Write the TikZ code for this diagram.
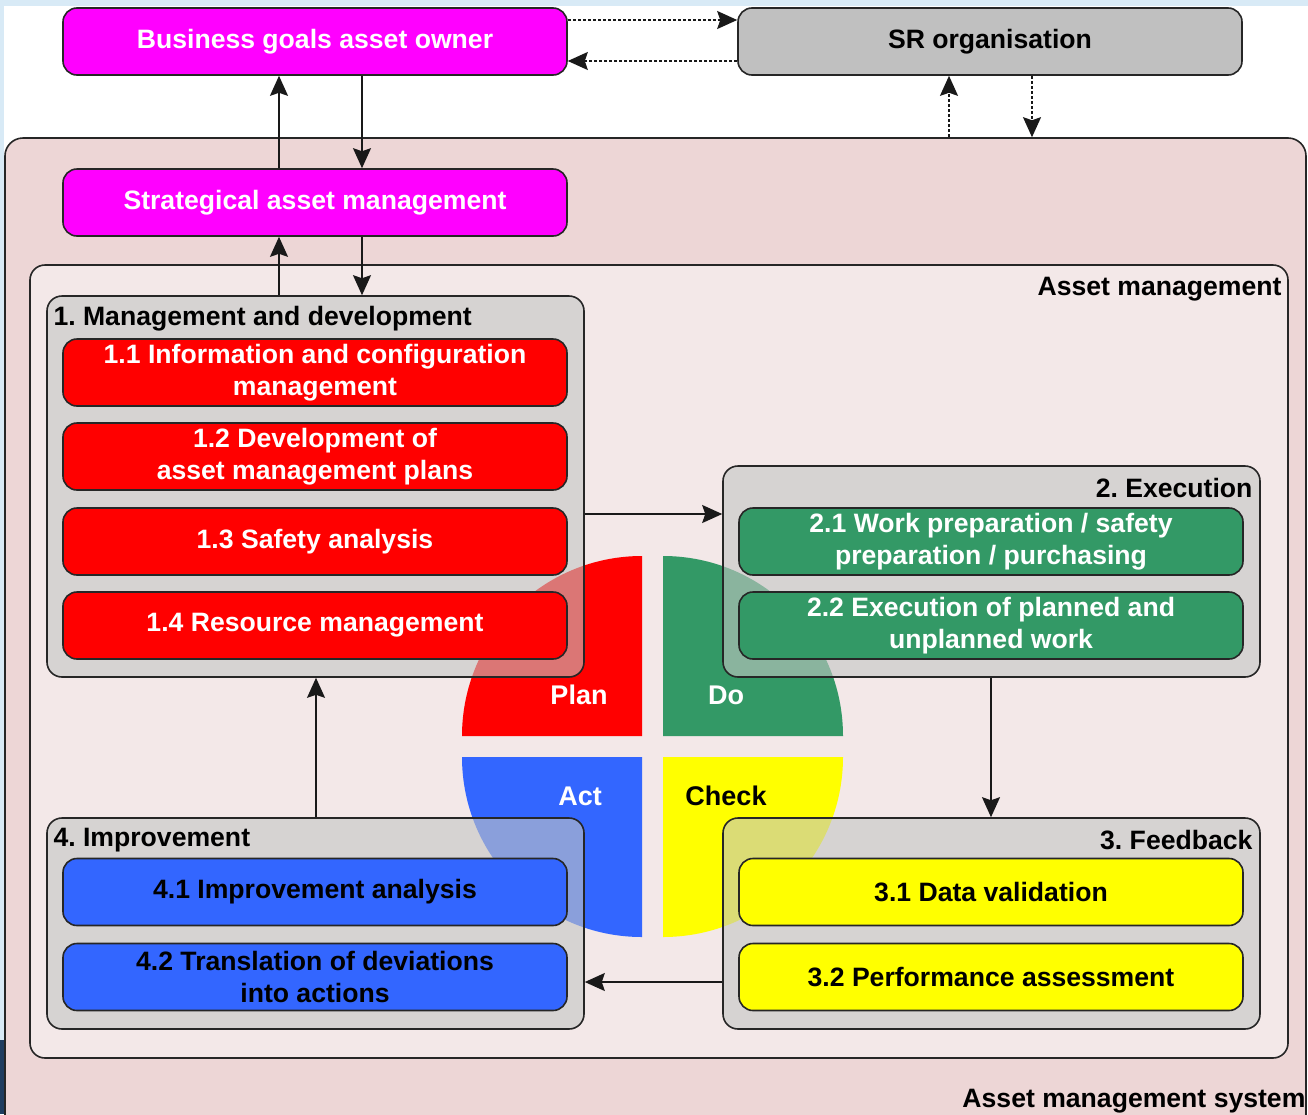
\documentclass[tikz,border=0pt]{standalone}
\usepackage{fontspec}
\setmainfont{Liberation Sans}
\usetikzlibrary{arrows.meta}
\frenchspacing

\definecolor{pageblue}{HTML}{D8EAF6}
\definecolor{navy}{HTML}{1F3D60}
\definecolor{sysfill}{HTML}{EDD6D6}
\definecolor{amfill}{HTML}{F3E8E8}
\definecolor{grpfill}{HTML}{C4C6C4}
\definecolor{magentaC}{HTML}{FF00FF}
\definecolor{srgray}{HTML}{C0C0C0}
\definecolor{planred}{HTML}{FF0000}
\definecolor{dogreen}{HTML}{339966}
\definecolor{actblue}{HTML}{3366FF}
\definecolor{checkyellow}{HTML}{FFFF00}

\tikzset{
  txt/.style={font=\bfseries\fontsize{26.6}{32}\selectfont},
  sub/.style={txt, draw=black!85, line width=1.6pt, rounded corners=14pt,
    minimum width=504pt, minimum height=67pt, inner sep=0pt, align=center},
  grp/.style={draw=black!85, line width=1.6pt, rounded corners=15pt,
    fill=grpfill, fill opacity=0.6, draw opacity=1, inner sep=0pt,
    minimum width=537pt, minimum height=211pt},
  frame/.style={draw=black!85, line width=1.6pt, rounded corners=18pt, inner sep=0pt},
  conn/.style={line width=1.5pt, draw=black!90, -{Stealth[length=20pt,width=18pt,inset=3pt]}},
  dconn/.style={conn, dash pattern=on 3pt off 2pt},
  pdca/.style={font=\bfseries\fontsize{27}{32}\selectfont}
}

\begin{document}
\begin{tikzpicture}[x=1pt,y=-1pt]
\useasboundingbox (0,0) rectangle (1308,1114);
\clip (0,0) rectangle (1308,1114);

% page background
\fill[pageblue] (0,0) rectangle (1308,1114);
\fill[navy] (0,1040) rectangle (4,1114);
\fill[white] (4,6) rectangle (1308,1114);

% containers
\node[frame, fill=sysfill, minimum width=1301pt, minimum height=1002pt] (amsys) at (655.5,639) {};
\node[frame, fill=amfill, rounded corners=15pt, minimum width=1258pt, minimum height=793pt] (am) at (659,661.5) {};

% PDCA wheel
\fill[planred] (642,736) -- (462,736) .. controls (462,636.6) and (542.6,556) .. (642,556) -- cycle;
\fill[dogreen] (663,736) -- (663,556) .. controls (762.4,556) and (843,636.6) .. (843,736) -- cycle;
\fill[actblue] (642,757) -- (462,757) .. controls (462,856.4) and (542.6,937) .. (642,937) -- cycle;
\fill[checkyellow] (663,757) -- (843,757) .. controls (843,856.4) and (762.4,937) .. (663,937) -- cycle;
\node[pdca, text=white] (plan) at (579,695) {Plan};
\node[pdca, text=white] (do) at (726,695) {Do};
\node[pdca, text=white] (act) at (580,796) {Act};
\node[pdca, text=black] (check) at (726,796) {Check};

% process groups
\node[grp, minimum height=381pt] (g1) at (315.5,486.5) {};
\node[grp] (g2) at (991.5,571.5) {};
\node[grp] (g3) at (991.5,923.5) {};
\node[grp] (g4) at (315.5,923.5) {};

% top level boxes
\node[sub, fill=magentaC, text=white] (bg) at (315,41.5) {Business goals asset owner};
\node[sub, fill=srgray, text=black] (sr) at (990,41.5) {SR organisation};
\node[sub, fill=magentaC, text=white] (sam) at (315,202.5) {Strategical asset management};

% group 1
\node[sub, fill=planred, text=white] (s11) at (315,372.5) {1.1 Information and configuration\\management};
\node[sub, fill=planred, text=white] (s12) at (315,456.5) {1.2 Development of\\asset management plans};
\node[sub, fill=planred, text=white] (s13) at (315,541.5) {1.3 Safety analysis};
\node[sub, fill=planred, text=white] (s14) at (315,625.5) {1.4 Resource management};
% group 2
\node[sub, fill=dogreen, text=white] (s21) at (991,541.5) {2.1 Work preparation / safety\\preparation / purchasing};
\node[sub, fill=dogreen, text=white] (s22) at (991,625.5) {2.2 Execution of planned and\\unplanned work};
% group 3
\node[sub, fill=checkyellow, text=black] (s31) at (991,892) {3.1 Data validation};
\node[sub, fill=checkyellow, text=black] (s32) at (991,977) {3.2 Performance assessment};
% group 4
\node[sub, fill=actblue, text=black] (s41) at (315,892) {4.1 Improvement analysis};
\node[sub, fill=actblue, text=black] (s42) at (315,977) {4.2 Translation of deviations\\into actions};

% titles
\node[txt, anchor=west] (t1) at (50,319) {1. Management and development};
\node[txt, anchor=east] (t2) at (1256,488) {2. Execution};
\node[txt, anchor=east] (t3) at (1256,840) {3. Feedback};
\node[txt, anchor=west] (t4) at (50,840) {4. Improvement};
\node[txt, anchor=east] (tam) at (1285,289) {Asset management};
\node[txt, anchor=east] (tsys) at (1309,1101) {Asset management system};

% connector guides
\coordinate (xup) at (279,0);
\coordinate (xdn) at (362,0);
\coordinate (xsrup) at (949,0);
\coordinate (xsrdn) at (1032,0);
\coordinate (ytop) at (0,20);
\coordinate (ybot) at (0,61);
\coordinate (y12) at (0,514);
\coordinate (y34) at (0,982);
\coordinate (x41) at (316,0);
\coordinate (x23) at (991,0);

% connectors
\draw[conn] (sam.north -| xup) -- (bg.south -| xup);
\draw[conn] (bg.south -| xdn) -- (sam.north -| xdn);
\draw[conn] (g1.north -| xup) -- (sam.south -| xup);
\draw[conn] (sam.south -| xdn) -- (g1.north -| xdn);
\draw[dconn] (bg.east |- ytop) -- (sr.west |- ytop);
\draw[dconn] (sr.west |- ybot) -- (bg.east |- ybot);
\draw[dconn] (amsys.north -| xsrup) -- (sr.south -| xsrup);
\draw[dconn] (sr.south -| xsrdn) -- (amsys.north -| xsrdn);
\draw[conn] (g1.east |- y12) -- (g2.west |- y12);
\draw[conn] (g2.south -| x23) -- (g3.north -| x23);
\draw[conn] (g3.west |- y34) -- (g4.east |- y34);
\draw[conn] (g4.north -| x41) -- (g1.south -| x41);
\end{tikzpicture}
\end{document}
